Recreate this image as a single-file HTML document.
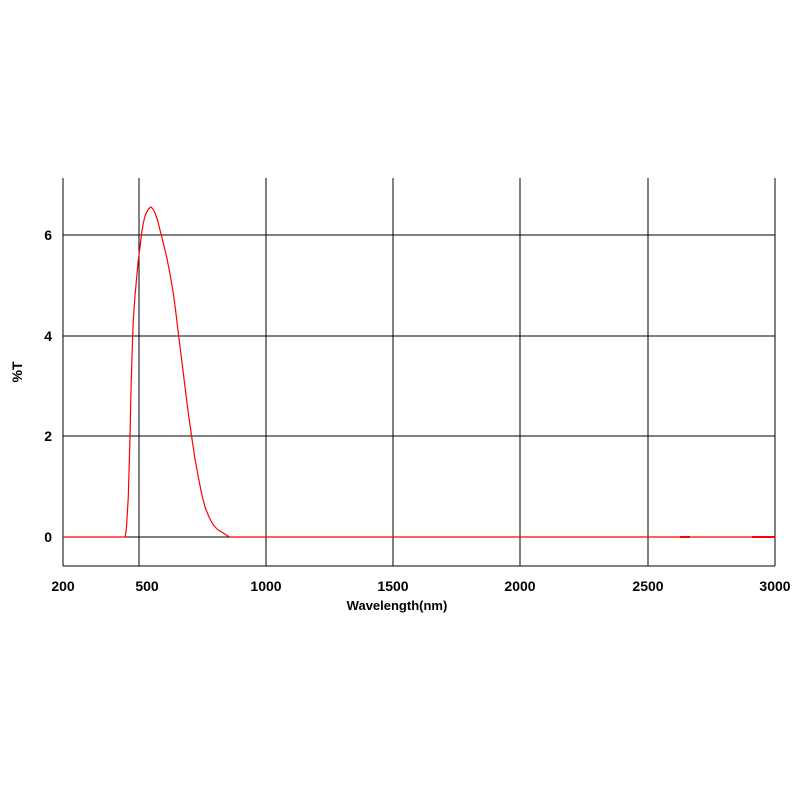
<!DOCTYPE html>
<html><head><style>body{margin:0;background:#fff}</style></head><body>
<svg width="800" height="800" xmlns="http://www.w3.org/2000/svg" style="font-family:'Liberation Sans',Arial,sans-serif">
<rect width="800" height="800" fill="#fff"/>
<g stroke="#000" stroke-width="1">
<line x1="63" y1="178" x2="63" y2="566"/>
<line x1="139" y1="178" x2="139" y2="566"/>
<line x1="266" y1="178" x2="266" y2="566"/>
<line x1="393" y1="178" x2="393" y2="566"/>
<line x1="520" y1="178" x2="520" y2="566"/>
<line x1="648" y1="178" x2="648" y2="566"/>
<line x1="775" y1="178" x2="775" y2="566"/>
<line x1="63" y1="566" x2="775" y2="566"/>
<line x1="63" y1="537" x2="775" y2="537"/>
<line x1="63" y1="436" x2="775" y2="436"/>
<line x1="63" y1="336" x2="775" y2="336"/>
<line x1="63" y1="235" x2="775" y2="235"/>
</g>
<g font-size="14" font-weight="bold" text-anchor="end">
<text x="52" y="542">0</text><text x="52" y="441">2</text><text x="52" y="341">4</text><text x="52" y="240">6</text>
</g>
<g font-size="14" font-weight="bold" text-anchor="middle">
<text x="63" y="591">200</text><text x="147" y="591">500</text><text x="266" y="591">1000</text>
<text x="393" y="591">1500</text><text x="520" y="591">2000</text><text x="648" y="591">2500</text><text x="775" y="591">3000</text>
<text x="397" y="610" font-size="13">Wavelength(nm)</text>
<text transform="translate(22,372) rotate(-90)" font-size="14">%T</text>
</g>
<polyline fill="none" stroke="#f00" stroke-width="1.2" stroke-linejoin="round" points="63,537 125,537 126,532 126.7,524 127.5,510 128.3,497 129.2,465 130,437 130.7,403 131.3,380 132,357 132.6,338 133.3,320 135,296 136.7,277 138.3,260 140,247 141.7,233 143.3,223 145,216 146.7,212 149,208.5 151,207 153,209 155,213 157.5,220 160,230 163.3,243 166.7,257 170,274 173.3,293 175.8,312 178.3,333 181.7,360 185,387 188.3,413 191.7,437 195,459 198.3,477 201.7,494 205,507 209,517 213.3,525 218,530 223.3,533 227,535.5 230,537 775,537"/>
<line x1="680" y1="537" x2="690" y2="537" stroke="#f00" stroke-width="2"/>
<line x1="752" y1="537" x2="775" y2="537" stroke="#f00" stroke-width="2"/>
</svg>
</body></html>
